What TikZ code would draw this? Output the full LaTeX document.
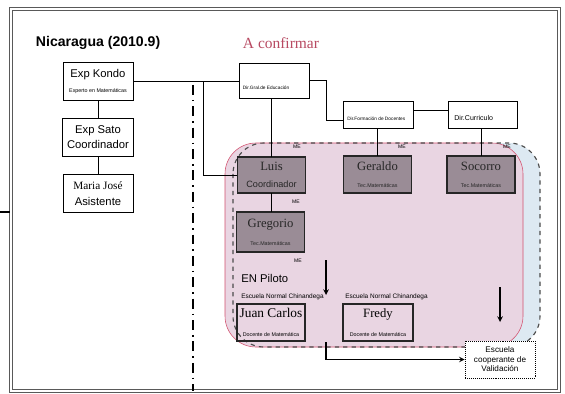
\documentclass[tikz,border=0pt]{standalone}
\usepackage{fontspec}
\setmainfont{Liberation Serif}
\setsansfont{Liberation Sans}
\usetikzlibrary{positioning,arrows,calc}
\definecolor{mauve}{HTML}{9A8C96}
\definecolor{regpink}{HTML}{E9D5E2}
\definecolor{regblue}{HTML}{DDE9F2}
\definecolor{redline}{HTML}{D2506E}
\definecolor{confirm}{HTML}{B84A62}
\newcommand{\tinytxt}{\fontsize{3.8}{4.5}\selectfont}
\newcommand{\pname}[1]{{\fontsize{9}{10}\selectfont #1}}
\newcommand{\prole}[1]{{\sffamily\fontsize{6.5}{8}\selectfont #1}}

\begin{document}
\begin{tikzpicture}[>=stealth, x=0.025cm, y=-0.025cm,
	expbox/.style={draw, fill=white, minimum width=1.75cm,%
		minimum height=0.95cm, outer sep=0pt, align=center,%
		font=\sffamily\fontsize{8}{11}\selectfont},
	dirbox/.style={draw, fill=white, minimum width=1.75cm,%
		minimum height=0.68cm, outer sep=0pt},
	tecbox/.style={draw=black!85, line width=1.3pt, fill=mauve,%
		minimum width=1.7cm, minimum height=0.92cm, outer sep=0pt,%
		align=center, inner sep=1pt, text=black!85},
	schbox/.style={tecbox, fill=none, text=black},
	tag/.style={font=\sffamily\fontsize{3.6}{4}\selectfont, inner sep=0pt},
	conn/.style={line width=0.6pt}]
	\useasboundingbox (0,0) rectangle (565,394);
	\fill[white] (0,0) rectangle (565,394);
	% frame
	\draw[double=white, double distance=1.1pt, line width=0.8pt, black!65] (11,9) rectangle (559,391);
	\draw[line width=1.6pt] (0,212) -- (10,212);
	% regions
	\fill[regblue, rounded corners=22] (233,143) rectangle (540,347);
	\filldraw[fill=regpink, draw=redline, rounded corners=22] (225,143) rectangle (523,347);
	\draw[dashed, black!70, line width=0.8pt, rounded corners=22] (233,143) rectangle (540,347);
	
	\node[anchor=west, font=\sffamily\bfseries\fontsize{10}{12}\selectfont] (title) at (31,43) {Nicaragua (2010.9)};
	\node[anchor=west, text=confirm, font=\fontsize{11}{13}\selectfont] (conf) at (238,43) {A confirmar};
	
	% japanese side
	\node[expbox] (kondo) at (98,81.5) {Exp Kondo\\[-1pt]{\tinytxt Experto en Matem\'aticas}};
	\node[expbox] (sato) at (98,137) {Exp Sato\\Coordinador};
	\node[expbox] (maria) at (98,193.5) {{\rmfamily Maria Jos\'e}\\Asistente};
	\draw[conn] (kondo) -- (sato);
	\draw[conn] (sato) -- (maria);
	
	% separator
	\coordinate (sep1) at (193,85);
	\coordinate (sep2) at (193,391);
	\draw[line width=1.7pt, dash pattern=on 7pt off 3.5pt on 1.2pt off 3.5pt] (sep1) -- (sep2);
	
	% ministry
	\node[dirbox, minimum height=0.88cm] (dgral) at (274.5,80.5) {};
	\node[tag, anchor=south west, font=\sffamily\fontsize{3.4}{4}\selectfont] (dgraltxt) at ($(dgral.south west)+(3,-8)$) {Dir.Gral.de Educaci\'on};
	\node[dirbox] (dfd) at (378,114.5) {};
	\node[tag, anchor=south west, font=\sffamily\fontsize{3.4}{4}\selectfont] (dfdtxt) at ($(dfd.south west)+(4,-7)$) {Dir.Formaci\'on de Docentes};
	\node[dirbox, minimum width=1.72cm] (dcur) at (482.5,114.5) {};
	\node[anchor=south west, inner sep=0pt, font=\sffamily\fontsize{5}{6}\selectfont] (dcurtxt) at ($(dcur.south west)+(6,-7)$) {Dir.Curriculo};
	
	\draw[conn] (kondo.east) -- (kondo.east -| dgral.west);
	\coordinate (br) at (203,81.5);
	\coordinate (j1) at (326,120);
	\draw[conn] (dgral.east) -| (j1) -- (j1 -| dfd.west);
	\draw[conn] (dfd.east |- 0,110) -- (dcur.west |- 0,110);
	
	% tecnicos
	\node[tecbox] (luis) at (271.5,175) {\pname{Luis}\\\prole{Coordinador}};
	\node[tecbox] (geraldo) at (377.5,174.5) {\pname{Geraldo}\\{\tinytxt\sffamily Tec.Matem\'aticas}};
	\node[tecbox] (socorro) at (481,174.5) {\pname{Socorro}\\{\tinytxt\sffamily Tec.Matem\'aticas}};
	\node[tecbox, minimum height=1cm] (gregorio) at (270.5,232) {\pname{Gregorio}\\[1pt]{\tinytxt\sffamily Tec.Matem\'aticas}};
	
	\draw[conn] (br) |- (luis.west);
	\draw[conn] (luis.north |- dgral.south) -- (luis.north);
	\draw[conn] (geraldo.north |- dfd.south) -- (geraldo.north);
	\draw[conn] (socorro.north |- dcur.south) -- (socorro.north);
	\draw[conn] (luis) -- (luis |- gregorio.north);
	
	\node[tag] (me1) at (297,147) {ME};
	\node[tag] (me2) at (402,147) {ME};
	\node[tag] (me3) at (507,147) {ME};
	\node[tag] (me4) at (296,202) {ME};
	\node[tag] (me5) at (298,261) {ME};
	
	% escuela normal
	\node[anchor=west, inner sep=0pt, font=\sffamily\fontsize{8}{9}\selectfont] (piloto) at (241,278) {EN Piloto};
	\node[tag, anchor=west, font=\sffamily\fontsize{4.6}{5}\selectfont] (enc1) at (241,297) {Escuela Normal Chinandega};
	\node[tag, anchor=west, font=\sffamily\fontsize{4.6}{5}\selectfont] (enc2) at (345,297) {Escuela Normal Chinandega};
	\node[schbox] (juan) at (271,322.5) {{\fontsize{9.5}{10}\selectfont Juan Carlos}\\[1pt]{\tinytxt\sffamily Docente de Matem\'atica}};
	\node[schbox, minimum width=1.75cm] (fredy) at (378,322.5) {\pname{Fredy}\\[1pt]{\tinytxt\sffamily Docente de Matem\'atica}};
	
	\node[draw, densely dotted, fill=white, minimum width=1.75cm, minimum height=0.92cm, align=center, inner sep=1pt, font=\sffamily\fontsize{5.8}{6.8}\selectfont] (esc) at (500,359.5) {Escuela\\cooperante de\\Validaci\'on};
	
	\coordinate (a1s) at (326,260);
	\coordinate (a1e) at (326,295);
	\coordinate (a2s) at (500,287);
	\coordinate (a2e) at (500,322);
	\coordinate (a3) at (326,342);
	\draw[->, thick] (a1s) -- (a1e);
	\draw[->, thick] (a2s) -- (a2e);
	\draw[->, thick] (a3) |- (esc.west);
\end{tikzpicture}
\end{document}
